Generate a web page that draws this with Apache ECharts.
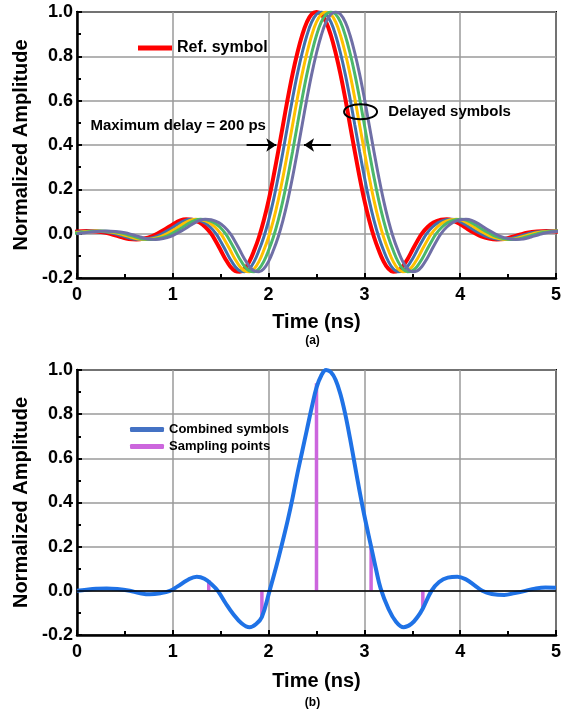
<!DOCTYPE html>
<html>
<head>
<meta charset="utf-8">
<script src="https://cdn.jsdelivr.net/npm/echarts@6/dist/echarts.min.js"></script>
<style>
html,body{margin:0;padding:0;background:#fff;}
#c{width:566px;height:717px;}
</style>
</head>
<body>
<div id="c"></div>
<script>
// ---------- data ----------
// Reference symbol (panel a), time in ns
const refTime = [-0.2,-0.1,0,0.1,0.2,0.3,0.38,0.46,0.54,0.62,0.7,0.78,0.85,0.92,1.0,1.08,1.14,1.2,1.28,1.34,1.4,1.45,
  1.5,1.55,1.6,1.65,1.7,1.75,1.8,1.85,1.9,1.95,2.0,2.05,2.1,2.15,2.2,2.25,2.3,2.35,2.4,2.45,2.5,
  2.55,2.6,2.65,2.7,2.75,2.8,2.85,2.9,2.95,3.0,3.05,3.1,3.15,3.2,3.25,3.3,3.35,3.4,3.45,3.5,3.55,3.6,
  3.66,3.72,3.8,3.86,3.92,4.0,4.08,4.15,4.22,4.3,4.38,4.46,4.54,4.62,4.7,4.8,4.9,5.0,5.1,5.2];
const refAmp = [0.0,0.005,0.01,0.012,0.01,0.004,-0.005,-0.015,-0.024,-0.026,-0.022,-0.012,0.003,0.02,0.042,0.06,0.065,0.063,0.05,0.03,0.0,-0.035,
  -0.075,-0.115,-0.148,-0.168,-0.172,-0.158,-0.125,-0.075,-0.015,0.06,0.15,0.255,0.37,0.49,0.61,0.72,0.815,0.895,0.955,0.99,1.0,
  0.99,0.955,0.895,0.815,0.72,0.61,0.49,0.37,0.255,0.15,0.06,-0.015,-0.075,-0.125,-0.158,-0.172,-0.168,-0.148,-0.115,-0.075,-0.035,0.0,
  0.03,0.05,0.063,0.065,0.06,0.042,0.02,0.003,-0.012,-0.022,-0.026,-0.024,-0.015,-0.005,0.004,0.01,0.012,0.01,0.005,0.0];
// delays of the symbols (ps)
const delaysPs = [0, 50, 100, 150, 200];
const symbolNames = ['Ref. symbol', 'Delay 50 ps', 'Delay 100 ps', 'Delay 150 ps', 'Delay 200 ps'];

// Combined symbols (panel b)
const comboTime = [0,0.1,0.2,0.31,0.42,0.55,0.65,0.76,0.87,0.97,1.05,1.15,1.25,1.33,1.41,1.47,1.55,1.63,1.72,1.80,
  1.87,1.93,2.01,2.08,2.15,2.2,2.25,2.3,2.35,2.4,2.45,2.5,2.55,2.6,2.65,2.7,2.75,2.8,2.85,2.9,
  2.95,3.0,3.07,3.12,3.17,3.25,3.33,3.41,3.49,3.56,3.61,3.7,3.78,3.87,3.97,4.06,4.15,4.23,4.33,4.46,
  4.57,4.68,4.78,4.89,5.0];
const comboAmp = [0,0.005,0.009,0.011,0.008,0,-0.01,-0.016,-0.011,0,0.02,0.048,0.064,0.055,0.028,0,-0.055,-0.105,-0.148,-0.165,
  -0.15,-0.118,0,0.11,0.23,0.32,0.42,0.53,0.63,0.73,0.83,0.92,0.975,1.0,0.99,0.955,0.89,0.8,0.69,0.57,
  0.45,0.34,0.2,0.1,0.01,-0.08,-0.14,-0.165,-0.15,-0.115,-0.08,0,0.04,0.06,0.064,0.052,0.025,0,-0.014,-0.019,
  -0.01,0,0.01,0.015,0.014];
// Sampling points
const sampleTime = [1.375, 1.93, 2.5, 3.07, 3.61];
const sampleAmp = [0.049, -0.118, 0.94, 0.2, -0.08];

// axis ticks
const xMin = 0, xMax = 5, xStep = 1;
const yMin = -0.2, yMax = 1.0, yStep = 0.2;

// ---------- styling ----------
const FONT = '"Liberation Sans", Arial, Helvetica, sans-serif';
const symbolColors = ['#ff0000', '#3f6fae', '#ffc000', '#4bb86a', '#6f6fa6'];
const symbolWidths = [4, 3, 3, 3, 3];
const comboColor = '#1f72e6';
const sampleColor = '#cc66dd';

function xAxisCfg(gi, gap) {
  return {
    gridIndex: gi, type: 'value', min: xMin, max: xMax, interval: xStep,
    axisLine: {show: true, onZero: false, lineStyle: {color: '#000', width: 2.5}},
    axisTick: {show: true, inside: true, length: 5, lineStyle: {color: '#000', width: 2}},
    minorTick: {show: true, splitNumber: 2, length: 4, lineStyle: {color: '#000', width: 2}},
    splitLine: {show: true, lineStyle: {color: '#9a9a9a', width: 1.5}},
    axisLabel: {fontSize: 18, fontWeight: 'bold', color: '#000', margin: 8, fontFamily: FONT},
    name: 'Time (ns)', nameLocation: 'middle', nameGap: gap,
    nameTextStyle: {fontSize: 20, fontWeight: 'bold', color: '#000', fontFamily: FONT}
  };
}
function yAxisCfg(gi) {
  return {
    gridIndex: gi, type: 'value', min: yMin, max: yMax, interval: yStep,
    axisLine: {show: true, onZero: false, lineStyle: {color: '#000', width: 2.5}},
    axisTick: {show: true, inside: true, length: 5, lineStyle: {color: '#000', width: 2}},
    minorTick: {show: true, splitNumber: 2, length: 4, lineStyle: {color: '#000', width: 2}},
    splitLine: {show: true, lineStyle: {color: '#9a9a9a', width: 1.5}},
    axisLabel: {fontSize: 18, fontWeight: 'bold', color: '#000', margin: 4, fontFamily: FONT,
      formatter: v => (Math.abs(v) < 1e-9 ? 0 : v).toFixed(1)},
    name: 'Normalized Amplitude', nameLocation: 'middle', nameGap: 46,
    nameTextStyle: {fontSize: 20, fontWeight: 'bold', color: '#000', fontFamily: FONT}
  };
}

const series = [];
delaysPs.forEach((dps, k) => {
  const s = {
    name: symbolNames[k], type: 'line', xAxisIndex: 0, yAxisIndex: 0,
    data: refTime.map((t, i) => [t + dps / 1000, refAmp[i]]),
    showSymbol: false, smooth: 0.4, clip: true,
    lineStyle: {color: symbolColors[k], width: symbolWidths[k]},
    itemStyle: {color: symbolColors[k]},
    z: 2 + k
  };
  if (k === 0) {
    s.markLine = {
      silent: true, symbol: ['none', 'arrow'], symbolSize: 10, animation: false,
      label: {show: false},
      lineStyle: {color: '#000', width: 2, type: 'solid'},
      data: [
        [{coord: [1.77, 0.4]}, {coord: [2.08, 0.4]}],
        [{coord: [2.65, 0.4]}, {coord: [2.37, 0.4]}]
      ]
    };
  }
  series.push(s);
});
series.push({
  name: 'Sampling points', type: 'custom', xAxisIndex: 1, yAxisIndex: 1,
  data: sampleTime.map((t, i) => [t, sampleAmp[i]]),
  encode: {x: 0, y: 1},
  itemStyle: {color: sampleColor},
  renderItem: function (params, api) {
    const p0 = api.coord([api.value(0), 0]);
    const p1 = api.coord([api.value(0), api.value(1)]);
    return {type: 'line', shape: {x1: p0[0], y1: p0[1], x2: p1[0], y2: p1[1]},
      style: {stroke: sampleColor, lineWidth: 3.5}};
  },
  z: 2
});
series.push({
  name: 'Combined symbols', type: 'line', xAxisIndex: 1, yAxisIndex: 1,
  data: comboTime.map((t, i) => [t, comboAmp[i]]),
  showSymbol: false, smooth: 0.4, clip: true,
  lineStyle: {color: comboColor, width: 4},
  itemStyle: {color: comboColor},
  markLine: {
    silent: true, symbol: ['none', 'none'], animation: false, label: {show: false},
    lineStyle: {color: '#000', width: 1.5, type: 'solid'},
    data: [{yAxis: 0}]
  },
  z: 3
});

const option = {
  animation: false,
  backgroundColor: '#fff',
  textStyle: {fontFamily: FONT},
  grid: [
    {left: 77, top: 12, width: 479, height: 266, show: true, borderColor: '#000', borderWidth: 2, backgroundColor: 'transparent'},
    {left: 77, top: 370, width: 479, height: 265, show: true, borderColor: '#000', borderWidth: 2, backgroundColor: 'transparent'}
  ],
  xAxis: [xAxisCfg(0, 34), xAxisCfg(1, 36)],
  yAxis: [yAxisCfg(0), yAxisCfg(1)],
  legend: [
    {
      left: 133, top: 35, orient: 'vertical', itemWidth: 34, itemHeight: 5, itemGap: 4,
      selectedMode: false,
      textStyle: {fontSize: 16, fontWeight: 'bold', color: '#000', fontFamily: FONT},
      data: [{name: 'Ref. symbol', icon: 'rect', itemStyle: {color: symbolColors[0]}}]
    },
    {
      left: 125, top: 418, orient: 'vertical', itemWidth: 34, itemHeight: 5, itemGap: 4,
      selectedMode: false,
      textStyle: {fontSize: 13, fontWeight: 'bold', color: '#000', fontFamily: FONT},
      data: [
        {name: 'Combined symbols', icon: 'roundRect', itemStyle: {color: '#4472c4'}},
        {name: 'Sampling points', icon: 'roundRect', itemStyle: {color: sampleColor}}
      ]
    }
  ],
  series: series
};

const chart = echarts.init(document.getElementById('c'), null, {renderer: 'canvas', width: 566, height: 717});
chart.setOption(option);

// annotations placed in data coordinates of panel (a)
const px = (gi, pt) => chart.convertToPixel({gridIndex: gi}, pt);
const pMax = px(0, [0.14, 0.485]);
const pDel = px(0, [3.25, 0.55]);
const pEll = px(0, [2.96, 0.55]);
const pa = px(0, [2.5, yMin]);
const pb = px(1, [2.5, yMin]);
chart.setOption({
  graphic: [
    {type: 'text', x: pMax[0], y: pMax[1], z: 100,
      style: {text: 'Maximum delay = 200 ps', fill: '#000', font: 'bold 15px ' + FONT, textAlign: 'left', textVerticalAlign: 'middle'}},
    {type: 'text', x: pDel[0], y: pDel[1], z: 100,
      style: {text: 'Delayed symbols', fill: '#000', font: 'bold 15px ' + FONT, textAlign: 'left', textVerticalAlign: 'middle'}},
    {type: 'ellipse', z: 100, shape: {cx: pEll[0], cy: pEll[1], rx: 16.5, ry: 7.5},
      style: {fill: 'none', stroke: '#000', lineWidth: 2}},
    {type: 'text', x: pa[0] - 4, y: pa[1] + 63, z: 100,
      style: {text: '(a)', fill: '#000', font: 'bold 12px ' + FONT, textAlign: 'center', textVerticalAlign: 'middle'}},
    {type: 'text', x: pb[0] - 4, y: pb[1] + 68, z: 100,
      style: {text: '(b)', fill: '#000', font: 'bold 12px ' + FONT, textAlign: 'center', textVerticalAlign: 'middle'}}
  ]
});
</script>
</body>
</html>
